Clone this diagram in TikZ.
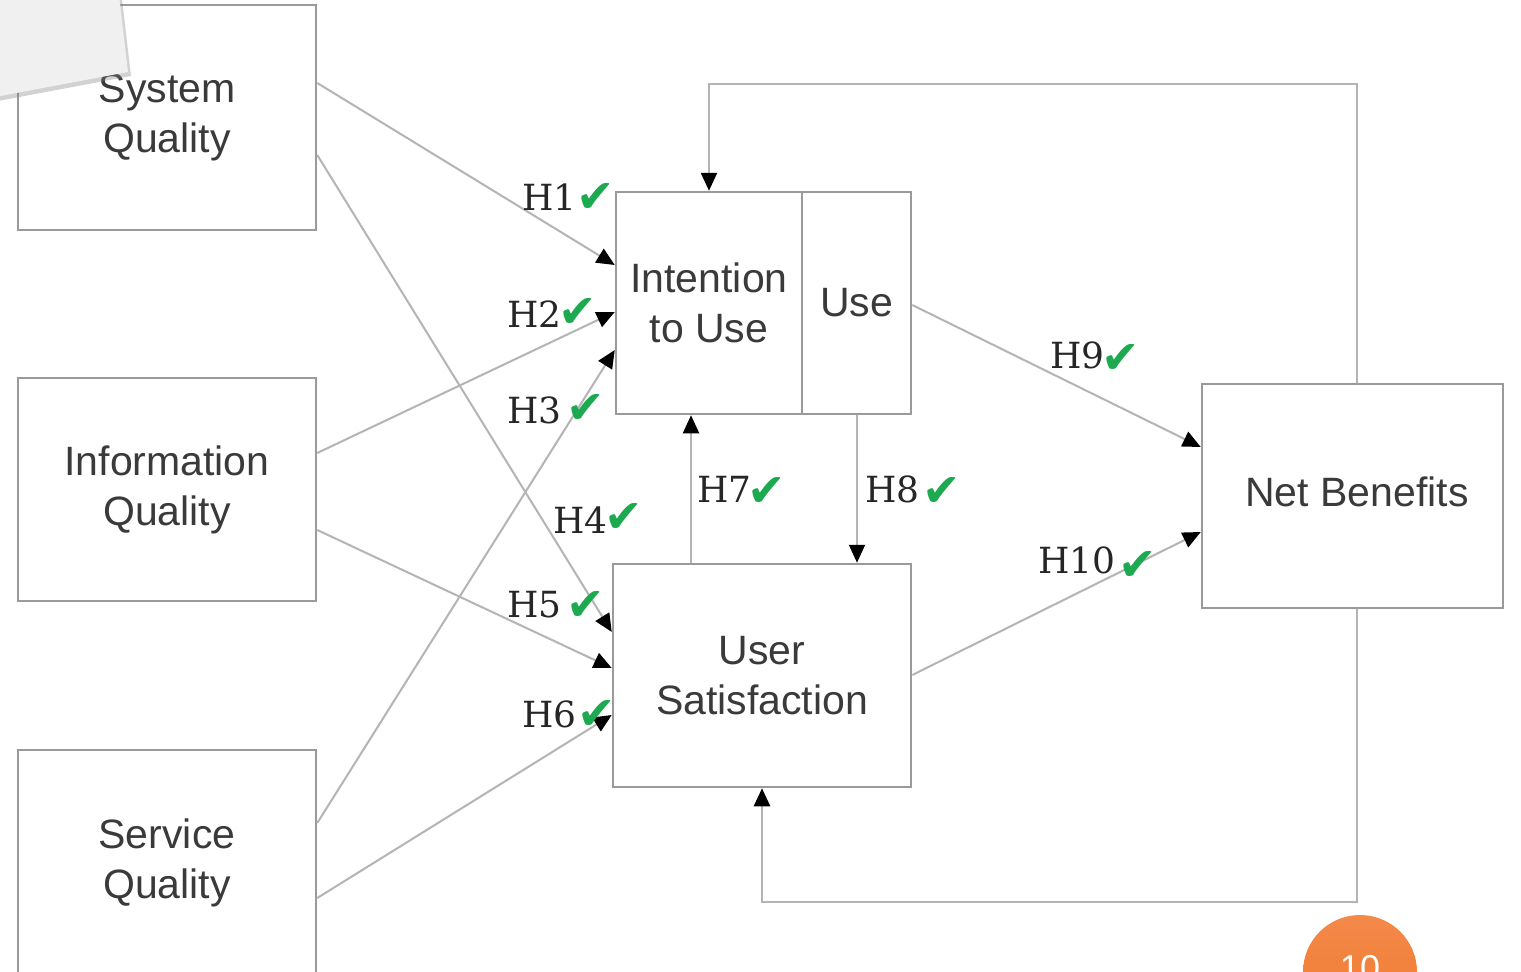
\documentclass[tikz,border=0pt]{standalone}
\usepackage{fontspec}
\newfontfamily\boxfont{Liberation Sans}
\newfontfamily\symfont{DejaVu Sans}
\newfontfamily\labfont{DejaVu Serif}
\usetikzlibrary{arrows.meta,shadows}
\definecolor{boxgray}{HTML}{9A9A9A}
\definecolor{linegray}{HTML}{B4B4B4}
\definecolor{txtgray}{HTML}{3A3A3A}
\definecolor{chkgreen}{HTML}{1DA94F}
\definecolor{paper}{HTML}{F0F0F0}
\definecolor{orangeA}{HTML}{F4894A}
\definecolor{orangeB}{HTML}{EF7A2C}
\tikzset{
  box/.style={draw=boxgray, line width=2.5pt, minimum width=298pt, minimum height=225pt,
    inner sep=0pt, align=center, font=\boxfont\fontsize{41}{50}\selectfont, text=txtgray},
  conn/.style={draw=linegray, line width=2pt, -{Triangle[length=18pt,width=16pt,color=black]}},
  loopline/.style={draw=linegray, line width=2.5pt, -{Triangle[length=18pt,width=16pt,color=black]}},
  hlab/.style={font=\labfont\fontsize{36}{36}\selectfont, text=black!85, anchor=west, inner sep=0pt},
  chk/.style={font=\symfont\fontsize{46}{46}\selectfont, text=chkgreen, inner sep=0pt}
}
\begin{document}
\begin{tikzpicture}[x=1pt,y=-1pt]
\useasboundingbox (0,0) rectangle (1521,972);
\clip (0,0) rectangle (1521,972);
\fill[white] (0,0) rectangle (1521,972);

% boxes
\node[box] (sq) at (167,117.5) {System\\Quality};
\node[box, minimum height=223pt] (iq) at (167,489.5) {Information\\Quality};
\node[box] (svq) at (167,862.5) {Service\\Quality};
\node[box, minimum width=186pt, minimum height=222pt] (itu) at (709,303) {Intention\\to Use};
\node[box, minimum width=109pt, minimum height=222pt] (use) at (856.5,303) {Use};
\node[box, minimum height=223pt] (us) at (762,675.5) {User\\Satisfaction};
\node[box, minimum width=301pt, minimum height=224pt] (nb) at (1352.5,496) {\raisebox{8pt}{\hspace*{9pt}Net Benefits}};

% connectors
\draw[conn] ([yshift=34.5pt]sq.east) -- ([yshift=38pt]itu.west);
\draw[conn] ([yshift=-37.5pt]sq.east) -- ([yshift=43.5pt]us.west);
\draw[conn] ([yshift=36.5pt]iq.east) -- ([yshift=-9pt]itu.west);
\draw[conn] ([yshift=-40.5pt]iq.east) -- ([yshift=7.5pt]us.west);
\draw[conn] ([yshift=39.5pt]svq.east) -- ([yshift=-47pt]itu.west);
\draw[conn] ([yshift=-35.5pt]svq.east) -- ([yshift=-39.5pt]us.west);
\draw[conn] ([yshift=-2pt]use.east) -- ([yshift=49pt]nb.west);
\draw[conn] ([yshift=0.5pt]us.east) -- ([yshift=-36pt]nb.west);
\draw[conn] ([xshift=-71pt]us.north) -- ([xshift=-18pt]itu.south);
\draw[conn] ([xshift=0.5pt]use.south) -- ([xshift=95pt]us.north);

\coordinate (topy) at (0,84);
\coordinate (boty) at (0,902);
\draw[loopline] ([xshift=4.5pt]nb.north) -- ([xshift=4.5pt]nb.north |- topy) -| (itu.north);
\draw[loopline] ([xshift=4.5pt]nb.south) -- ([xshift=4.5pt]nb.south |- boty) -| (us.south);

% hypothesis labels
\node[hlab] (h1) at (522,197) {H1};
\node[hlab] (h2) at (507,314) {H2};
\node[hlab] (h3) at (507,410) {H3};
\node[hlab] (h4) at (553,520) {H4};
\node[hlab] (h5) at (507,605) {H5};
\node[hlab] (h6) at (522,714) {H6};
\node[hlab] (h7) at (697,489) {H7};
\node[hlab] (h8) at (865,489) {H8};
\node[hlab] (h9) at (1050,355) {H9};
\node[hlab] (h10) at (1038,560) {H10};

\node[chk] (c1) at (596,198) {✔};
\node[chk] (c2) at (578,313) {✔};
\node[chk] (c3) at (586,409) {✔};
\node[chk] (c4) at (624,518) {✔};
\node[chk] (c5) at (586,606) {✔};
\node[chk] (c6) at (597,715) {✔};
\node[chk] (c7) at (767,492) {✔};
\node[chk] (c8) at (942,492) {✔};
\node[chk] (c9) at (1121,359) {✔};
\node[chk] (c10) at (1138,566) {✔};

% overlay page corner
\fill[paper, drop shadow={opacity=0.35, shadow xshift=3pt, shadow yshift=-4pt}]
  (-5,-5) -- (119,-5) -- (128,72) -- (-5,97) -- cycle;

% page number badge
\shade[top color=orangeA, bottom color=orangeB] (1360,972) circle (57);
\node[font=\boxfont\fontsize{36}{36}\selectfont, text=white, inner sep=0pt, anchor=north] (pg) at (1360,955) {10};
\end{tikzpicture}
\end{document}
